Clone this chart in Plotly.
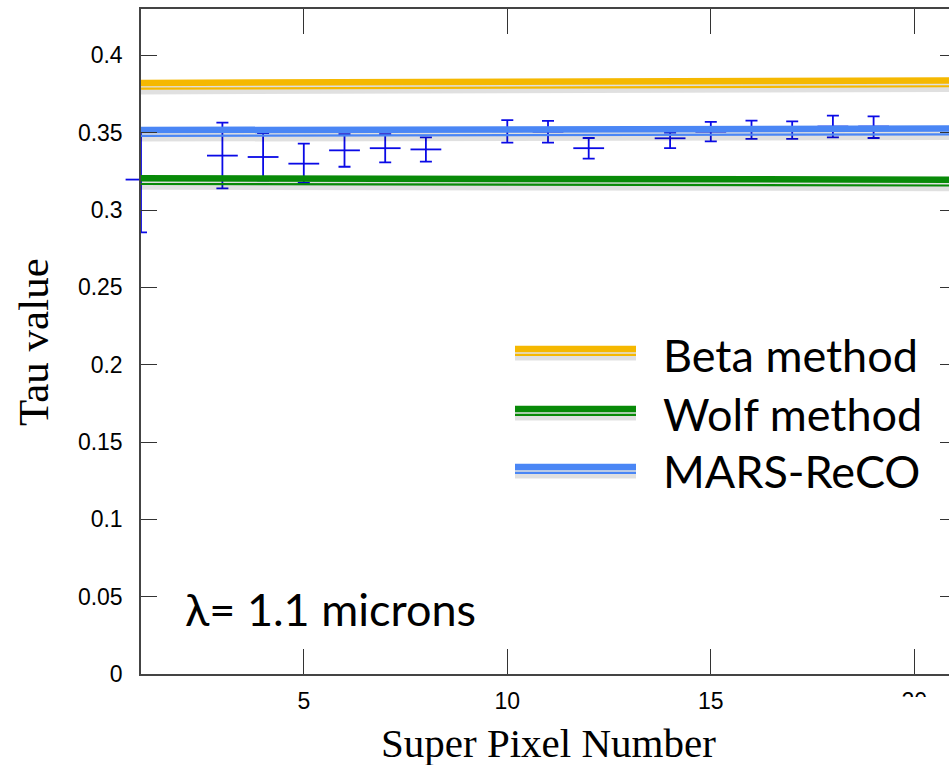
import plotly.graph_objects as go

# ---------------- data ----------------
pixel_number = [1, 3, 4, 5, 6, 7, 8, 10, 11, 12, 14, 15, 16, 17, 18, 19]
tau_center = [0.3197, 0.3352, 0.3343, 0.3300, 0.3386, 0.3400, 0.3392, 0.3510,
              0.3507, 0.3400, 0.3464, 0.3507, 0.3520, 0.3520, 0.3540, 0.3540]
tau_upper = [0.3530, 0.3565, 0.3498, 0.3430, 0.3490, 0.3490, 0.3470, 0.3582,
             0.3576, 0.3466, 0.3500, 0.3570, 0.3578, 0.3574, 0.3610, 0.3606]
tau_lower = [0.2856, 0.3140, 0.3192, 0.3175, 0.3280, 0.3308, 0.3313, 0.3436,
             0.3436, 0.3332, 0.3400, 0.3444, 0.3460, 0.3460, 0.3470, 0.3466]

method_x = [1, 21]
beta_tau = [0.3822, 0.3838]
wolf_tau = [0.3206, 0.3196]
mars_tau = [0.3517, 0.3527]

method_names = ["Beta method", "Wolf method", "MARS-ReCO"]
x_tick_vals = [5, 10, 15, 20]
y_tick_vals = [0, 0.05, 0.1, 0.15, 0.2, 0.25, 0.3, 0.35, 0.4]

# ---------------- style ----------------
W, H = 949, 765
L_M, T_M, B_M = 141, 9, 91
PLOT_H = H - T_M - B_M
PLOT_W = W - L_M
X_RANGE = [1, 1 + PLOT_W / 40.7]
Y_RANGE = [0, 0.43]
PX = (Y_RANGE[1] - Y_RANGE[0]) / PLOT_H   # data units per pixel (vertical)

ORANGE = "#F5B800"
GREEN = "#088A08"
BLUE_LINE = "#4A86F5"
DATA_BLUE = "#0A0AE6"
colors = [ORANGE, GREEN, BLUE_LINE]

err_plus = [u - c for u, c in zip(tau_upper, tau_center)]
err_minus = [c - l for c, l in zip(tau_center, tau_lower)]

fig = go.Figure()

fig.add_trace(go.Scatter(
    x=pixel_number, y=tau_center, mode="markers",
    marker=dict(symbol="line-ew", size=22, color=DATA_BLUE,
                line=dict(color=DATA_BLUE, width=1.8)),
    error_y=dict(type="data", symmetric=False, array=err_plus,
                 arrayminus=err_minus, color=DATA_BLUE, thickness=1.8, width=6),
    cliponaxis=False, showlegend=False, hoverinfo="x+y"))

for vals, col, name in zip([beta_tau, wolf_tau, mars_tau], colors, method_names):
    # soft shadow
    fig.add_trace(go.Scatter(
        x=method_x, y=[v - 6.5 * PX for v in vals], mode="lines",
        line=dict(color="rgba(0,0,0,0.12)", width=10),
        showlegend=False, hoverinfo="skip"))
    # main thick band
    fig.add_trace(go.Scatter(
        x=method_x, y=vals, mode="lines", name=name,
        line=dict(color=col, width=6.5), showlegend=False))
    # thin companion line
    fig.add_trace(go.Scatter(
        x=method_x, y=[v - 5.8 * PX for v in vals], mode="lines",
        line=dict(color=col, width=2.2), showlegend=False, hoverinfo="skip"))

# right-side ticks (axis itself lies beyond the visible frame)
fig.add_trace(go.Scatter(x=[None], y=[None], yaxis="y2", showlegend=False,
                         hoverinfo="skip"))

shapes = []
annotations = []

def px2paper_x(px):
    return (px - L_M) / PLOT_W

def px2paper_y(py):
    return (H - B_M - py) / PLOT_H

# legend (keys + labels)
key_x0, key_x1 = px2paper_x(515), px2paper_x(636)
key_centers = [349, 409, 467]
text_centers = [355, 414, 471]
for col, name, ky, ty in zip(colors, method_names, key_centers, text_centers):
    shapes.append(dict(type="line", xref="paper", yref="paper",
                       x0=key_x0, x1=key_x1, y0=px2paper_y(ky + 6.5), y1=px2paper_y(ky + 6.5),
                       line=dict(color="rgba(0,0,0,0.12)", width=10), layer="above"))
    shapes.append(dict(type="line", xref="paper", yref="paper",
                       x0=key_x0, x1=key_x1, y0=px2paper_y(ky), y1=px2paper_y(ky),
                       line=dict(color=col, width=6.5), layer="above"))
    shapes.append(dict(type="line", xref="paper", yref="paper",
                       x0=key_x0, x1=key_x1, y0=px2paper_y(ky + 5.8), y1=px2paper_y(ky + 5.8),
                       line=dict(color=col, width=2.2), layer="above"))
    annotations.append(dict(text=name, xref="paper", yref="paper",
                            x=px2paper_x(661), y=px2paper_y(ty),
                            xanchor="left", yanchor="middle", showarrow=False,
                            font=dict(family="Lato", size=45, color="black")))

annotations.append(dict(text="λ= 1.1 microns", xref="paper", yref="paper",
                        x=px2paper_x(183), y=px2paper_y(609),
                        xanchor="left", yanchor="middle", showarrow=False,
                        font=dict(family="Lato", size=45, color="black")))

annotations.append(dict(text="Tau value", xref="paper", yref="paper",
                        x=px2paper_x(34), y=px2paper_y(342), textangle=-90,
                        xanchor="center", yanchor="middle", showarrow=False,
                        font=dict(family="Liberation Serif", size=43, color="black")))

annotations.append(dict(text="Super Pixel Number", xref="paper", yref="paper",
                        x=px2paper_x(548), y=px2paper_y(743),
                        xanchor="center", yanchor="middle", showarrow=False,
                        font=dict(family="Liberation Serif", size=41, color="black")))

# white patch that hides the lower part of the last x tick label
shapes.append(dict(type="rect", xref="paper", yref="paper",
                   x0=px2paper_x(893), x1=1.02, y0=px2paper_y(765), y1=px2paper_y(697),
                   fillcolor="white", line=dict(width=0), layer="above"))

fig.update_layout(
    width=W, height=H,
    margin=dict(l=L_M, r=0, t=T_M, b=B_M, pad=0),
    paper_bgcolor="white", plot_bgcolor="white",
    showlegend=False,
    xaxis=dict(range=X_RANGE, tickvals=x_tick_vals, ticks="inside", ticklen=25,
               tickwidth=1.2, tickcolor="#333", showline=True, linecolor="#444",
               linewidth=1.5, mirror="ticks", showgrid=False, zeroline=False,
               tickfont=dict(family="Liberation Sans", size=23, color="black"),
               ticklabelstandoff=6),
    yaxis=dict(range=Y_RANGE, tickvals=y_tick_vals, ticks="inside", ticklen=16,
               tickwidth=1.2, tickcolor="#333", showline=True, linecolor="#444",
               linewidth=1.5, showgrid=False, zeroline=False,
               tickfont=dict(family="Liberation Sans", size=23, color="black"),
               ticklabelstandoff=12),
    yaxis2=dict(range=Y_RANGE, tickvals=y_tick_vals, overlaying="y", side="right",
                ticks="inside", ticklen=9, tickwidth=1.2, tickcolor="#333",
                showline=False, showgrid=False, zeroline=False, showticklabels=False),
    shapes=shapes, annotations=annotations,
)

fig.write_html("out.html")
